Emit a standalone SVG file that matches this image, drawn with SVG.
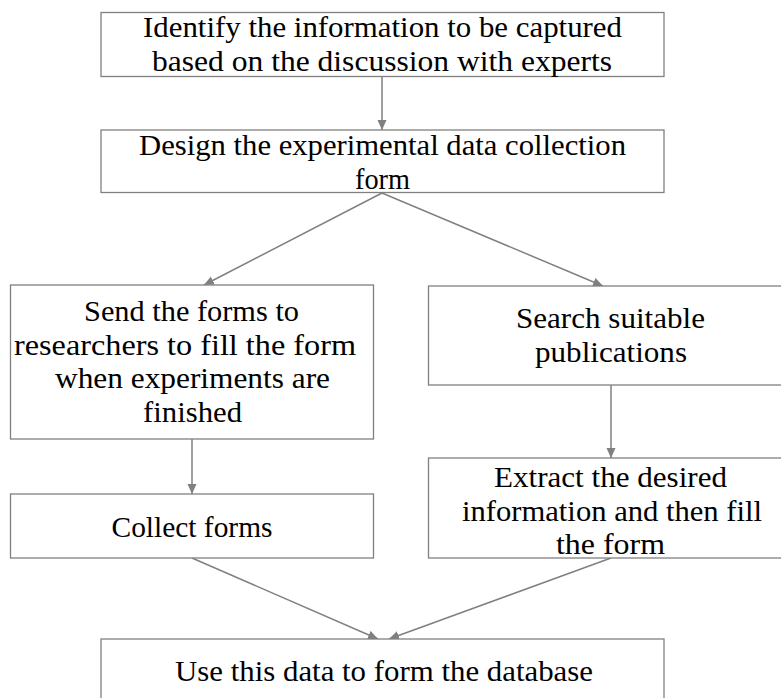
<svg xmlns="http://www.w3.org/2000/svg" width="781" height="698" viewBox="0 0 781 698">
  <defs>
    <style>
      .box { fill: #ffffff; stroke: #808080; stroke-width: 1.3; }
      .lbl { font-family: "Liberation Serif", "DejaVu Serif", serif; font-size: 29px; fill: #000000; text-anchor: middle; }
      .edge { fill: none; stroke: #808080; stroke-width: 1.5; }
    </style>
    <marker id="arrow" viewBox="0 0 10 10" refX="10" refY="5" markerWidth="10" markerHeight="10" markerUnits="userSpaceOnUse" orient="auto">
      <path d="M0,0.5 L10,5 L0,9.5 Z" fill="#808080"/>
    </marker>
  </defs>
  <rect width="781" height="698" fill="#ffffff"/>

  <g id="connectors">
    <line class="edge" x1="382" y1="77" x2="382" y2="130" marker-end="url(#arrow)"/>
    <line class="edge" x1="382" y1="193" x2="204" y2="285" marker-end="url(#arrow)"/>
    <line class="edge" x1="382" y1="193" x2="603" y2="286" marker-end="url(#arrow)"/>
    <line class="edge" x1="192" y1="439" x2="192" y2="494" marker-end="url(#arrow)"/>
    <line class="edge" x1="611" y1="385" x2="611" y2="458" marker-end="url(#arrow)"/>
    <line class="edge" x1="192" y1="558" x2="378" y2="639" marker-end="url(#arrow)"/>
    <line class="edge" x1="611" y1="558" x2="389" y2="639" marker-end="url(#arrow)"/>
  </g>

  <g id="identify">
    <rect class="box" x="101" y="12.5" width="563" height="64"/>
    <text class="lbl" x="382.5" y="37" textLength="479" lengthAdjust="spacingAndGlyphs">Identify the information to be captured</text>
    <text class="lbl" x="382" y="70.5" textLength="460" lengthAdjust="spacingAndGlyphs">based on the discussion with experts</text>
  </g>

  <g id="design">
    <rect class="box" x="101" y="130" width="563" height="62.5"/>
    <text class="lbl" x="382.5" y="155" textLength="487" lengthAdjust="spacingAndGlyphs">Design the experimental data collection</text>
    <text class="lbl" x="382.5" y="189" textLength="55" lengthAdjust="spacingAndGlyphs">form</text>
  </g>

  <g id="send">
    <rect class="box" x="10.5" y="285" width="363" height="154"/>
    <text class="lbl" x="191.5" y="321" textLength="215" lengthAdjust="spacingAndGlyphs">Send the forms to</text>
    <text class="lbl" x="185" y="354.5" textLength="342" lengthAdjust="spacingAndGlyphs">researchers to fill the form</text>
    <text class="lbl" x="192.5" y="388" textLength="275" lengthAdjust="spacingAndGlyphs">when experiments are</text>
    <text class="lbl" x="192.5" y="421.5" textLength="99" lengthAdjust="spacingAndGlyphs">finished</text>
  </g>

  <g id="search">
    <rect class="box" x="428.5" y="286" width="363" height="99"/>
    <text class="lbl" x="610.5" y="328" textLength="189" lengthAdjust="spacingAndGlyphs">Search suitable</text>
    <text class="lbl" x="611" y="361.5" textLength="152" lengthAdjust="spacingAndGlyphs">publications</text>
  </g>

  <g id="collect">
    <rect class="box" x="10.5" y="494" width="363" height="64"/>
    <text class="lbl" x="192" y="536.5" textLength="161" lengthAdjust="spacingAndGlyphs">Collect forms</text>
  </g>

  <g id="extract">
    <rect class="box" x="428.5" y="458" width="363" height="100"/>
    <text class="lbl" x="610.5" y="487" textLength="233" lengthAdjust="spacingAndGlyphs">Extract the desired</text>
    <text class="lbl" x="612" y="520.5" textLength="300" lengthAdjust="spacingAndGlyphs">information and then fill</text>
    <text class="lbl" x="610.5" y="554" textLength="109" lengthAdjust="spacingAndGlyphs">the form</text>
  </g>

  <g id="database">
    <rect class="box" x="101" y="639" width="563" height="80"/>
    <text class="lbl" x="384" y="681" textLength="418" lengthAdjust="spacingAndGlyphs">Use this data to form the database</text>
  </g>
</svg>
